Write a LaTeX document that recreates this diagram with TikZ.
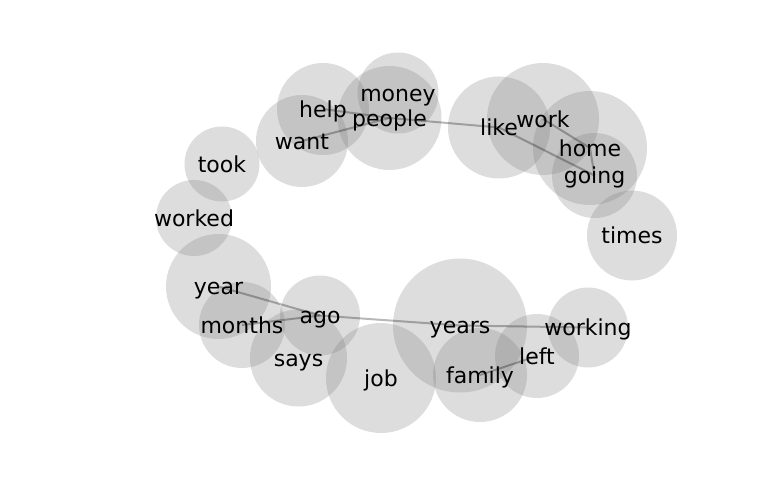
\documentclass[tikz,border=0pt]{standalone}
\usepackage{fontspec}
\setmainfont{DejaVu Sans}
\tikzset{
  bubble/.style={fill=black!50, fill opacity=0.27},
  edge/.style={draw=black, draw opacity=0.28, line width=2pt},
  word/.style={font=\fontsize{22}{26}\selectfont, text height=0.76em, text depth=0.21em, inner sep=0pt, anchor=center, text=black, yshift=-5.5pt}
}
\begin{document}
\begin{tikzpicture}[x=1pt,y=-1pt]
\useasboundingbox (0,0) rectangle (768,500);
% positions
\coordinate (money) at (398,93);
\coordinate (people) at (389.5,118);
\coordinate (help) at (323,109);
\coordinate (want) at (302,141);
\coordinate (took) at (222,164);
\coordinate (worked) at (194,218);
\coordinate (year) at (218.5,286.5);
\coordinate (months) at (242,325);
\coordinate (ago) at (320,315.5);
\coordinate (says) at (298.5,358);
\coordinate (job) at (381,378);
\coordinate (years) at (460,325.5);
\coordinate (family) at (480,375);
\coordinate (left) at (537,356);
\coordinate (working) at (588,327.5);
\coordinate (times) at (632,235.5);
\coordinate (going) at (594.5,175.5);
\coordinate (home) at (590,148);
\coordinate (work) at (543,119);
\coordinate (like) at (499,127.5);
% bubbles
\fill[bubble] (money) circle (40.5pt);
\fill[bubble] (people) circle (52pt);
\fill[bubble] (help) circle (46pt);
\fill[bubble] (want) circle (46pt);
\fill[bubble] (took) circle (37.5pt);
\fill[bubble] (worked) circle (38pt);
\fill[bubble] (year) circle (52.5pt);
\fill[bubble] (months) circle (43pt);
\fill[bubble] (ago) circle (40pt);
\fill[bubble] (says) circle (48.5pt);
\fill[bubble] (job) circle (55pt);
\fill[bubble] (years) circle (67pt);
\fill[bubble] (family) circle (47pt);
\fill[bubble] (left) circle (42pt);
\fill[bubble] (working) circle (40pt);
\fill[bubble] (times) circle (45pt);
\fill[bubble] (going) circle (42.5pt);
\fill[bubble] (home) circle (57pt);
\fill[bubble] (work) circle (56pt);
\fill[bubble] (like) circle (51pt);
% edges
\draw[edge] (want) -- (people);
\draw[edge] (help) -- (people);
\draw[edge] (people) -- (like);
\draw[edge] (like) -- (going);
\draw[edge] (work) -- (home);
\draw[edge] (home) -- (going);
\draw[edge] (year) -- (ago);
\draw[edge] (months) -- (ago);
\draw[edge] (ago) -- (years);
\draw[edge] (years) -- (working);
\draw[edge] (family) -- (left);
% labels
\node[word] (tmoney) at (money) {money};
\node[word] (tpeople) at (people) {people};
\node[word] (thelp) at (help) {help};
\node[word] (twant) at (want) {want};
\node[word] (ttook) at (took) {took};
\node[word] (tworked) at (worked) {worked};
\node[word] (tyear) at (year) {year};
\node[word] (tmonths) at (months) {months};
\node[word] (tago) at (ago) {ago};
\node[word] (tsays) at (says) {says};
\node[word] (tjob) at (job) {job};
\node[word] (tyears) at (years) {years};
\node[word] (tfamily) at (family) {family};
\node[word] (tleft) at (left) {left};
\node[word] (tworking) at (working) {working};
\node[word] (ttimes) at (times) {times};
\node[word] (tgoing) at (going) {going};
\node[word] (thome) at (home) {home};
\node[word] (twork) at (work) {work};
\node[word] (tlike) at (like) {like};
\end{tikzpicture}
\end{document}
